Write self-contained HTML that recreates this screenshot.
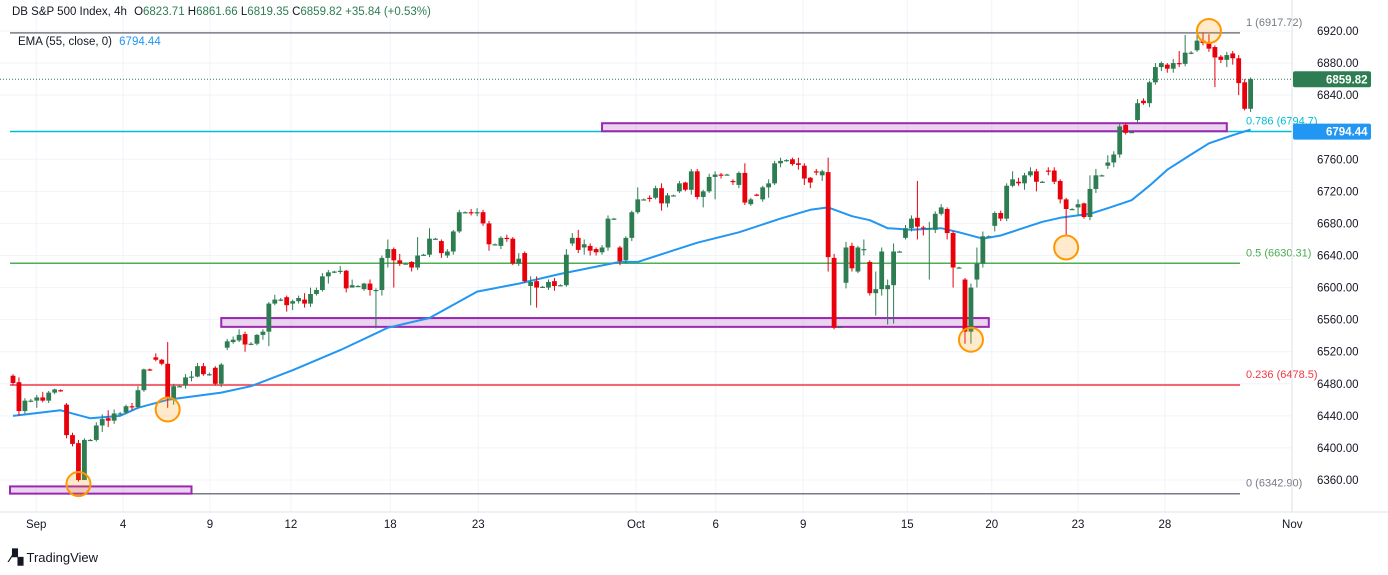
<!DOCTYPE html>
<html><head><meta charset="utf-8"><style>
body{margin:0;background:#fff;font-family:"Liberation Sans",sans-serif}
svg{display:block}
text{font-family:"Liberation Sans",sans-serif}
</style></head><body>
<svg id="chart" width="1388" height="575" viewBox="0 0 1388 575">
<rect x="0" y="0" width="1388" height="575" fill="#fff"/>
<g id="grid"></g>
<g id="levels"></g>
<g id="ema"></g>
<g id="candles"></g>
<g id="overlay"></g>
<g id="axes"></g>
<text x="12" y="15" font-size="11.5" fill="#131722">DB S&amp;P 500 Index, 4h <tspan fill="#131722" dx="4">O</tspan><tspan fill="#2e7d52">6823.71</tspan> <tspan>H</tspan><tspan fill="#2e7d52">6861.66</tspan> <tspan>L</tspan><tspan fill="#2e7d52">6819.35</tspan> <tspan>C</tspan><tspan fill="#2e7d52">6859.82 +35.84 (+0.53%)</tspan></text>
<text x="18" y="45" font-size="11.5" fill="#131722">EMA (55, close, 0) <tspan fill="#2196f3" dx="4">6794.44</tspan></text>
<text x="10" y="562" font-size="13" fill="#131722"><tspan font-weight="bold" font-size="14">⁄▚</tspan> TradingView</text>
</svg>
<script>
const NS='http://www.w3.org/2000/svg';
const opens=[6490,6482,6446,6459,6459,6463,6459,6469,6472,6454,6416,6406,6360,6410,6410,6428,6437,6434,6443,6444,6452,6451,6472,6498,6513,6510,6505,6462,6477,6478,6489,6489,6502,6492,6500,6480,6525,6532,6534,6542,6530,6530,6541,6545,6580,6585,6588,6580,6583,6585,6580,6592,6597,6614,6620,6621,6621,6600,6602,6598,6605,6597,6597,6637,6648,6634,6630,6632,6625,6640,6641,6661,6658,6640,6645,6670,6694,6694,6694,6694,6680,6654,6652,6662,6661,6630,6643,6602,6608,6601,6600,6608,6603,6603,6655,6662,6650,6652,6648,6644,6650,6686,6650,6634,6662,6694,6710,6712,6712,6724,6705,6715,6720,6731,6722,6745,6713,6720,6738,6741,6741,6733,6728,6743,6704,6716,6710,6725,6730,6755,6759,6760,6755,6752,6737,6745,6740,6744,6637,6551,6606,6652,6620,6648,6632,6593,6598,6598,6603,6645,6662,6674,6687,6675,6674,6672,6692,6698,6668,6625,6610,6545,6610,6630,6664,6677,6693,6686,6727,6732,6730,6740,6745,6732,6746,6746,6733,6710,6698,6700,6705,6688,6723,6740,6752,6756,6766,6803,6794,6809,6833,6830,6856,6875,6878,6873,6880,6879,6893,6896,6908,6905,6900,6888,6884,6892,6886,6856,6823];
const closes=[6481,6446,6459,6459,6463,6459,6469,6473,6471,6416,6405,6360,6410,6410,6428,6436,6434,6443,6443,6452,6451,6472,6498,6497,6510,6505,6462,6477,6477,6488,6489,6502,6492,6492,6480,6504,6533,6535,6541,6529,6530,6541,6545,6580,6585,6585,6578,6583,6587,6580,6592,6597,6614,6619,6620,6621,6599,6603,6602,6605,6597,6597,6637,6648,6634,6630,6630,6625,6640,6641,6661,6661,6643,6645,6670,6694,6694,6693,6694,6680,6654,6654,6662,6661,6630,6636,6608,6607,6600,6601,6607,6602,6603,6641,6662,6647,6654,6646,6644,6650,6686,6686,6633,6662,6694,6710,6710,6711,6724,6705,6715,6715,6730,6722,6745,6713,6720,6738,6741,6740,6741,6732,6743,6706,6710,6715,6725,6730,6755,6758,6759,6754,6753,6736,6731,6744,6745,6638,6550,6551,6650,6624,6650,6648,6593,6598,6645,6603,6645,6645,6674,6686,6676,6674,6674,6692,6700,6668,6625,6625,6545,6600,6630,6664,6664,6693,6686,6727,6735,6730,6740,6745,6732,6732,6745,6732,6710,6698,6698,6704,6688,6723,6740,6740,6756,6766,6801,6793,6794,6830,6830,6856,6875,6880,6873,6880,6879,6893,6893,6908,6905,6898,6887,6884,6890,6886,6855,6823,6860];
const highs=[6492,6488,6462,6461,6466,6470,6471,6474,6473,6456,6419,6410,6412,6411,6432,6442,6447,6448,6445,6454,6456,6477,6499,6499,6518,6511,6532,6480,6479,6492,6496,6506,6506,6494,6502,6506,6536,6539,6548,6545,6532,6542,6548,6582,6591,6587,6590,6585,6590,6593,6600,6600,6618,6622,6621,6627,6622,6610,6603,6606,6610,6599,6640,6660,6650,6642,6631,6633,6663,6642,6674,6662,6660,6648,6672,6697,6695,6698,6699,6697,6683,6655,6664,6666,6663,6643,6645,6614,6614,6602,6610,6612,6604,6648,6668,6672,6660,6655,6650,6653,6690,6687,6652,6664,6696,6725,6711,6715,6727,6730,6718,6716,6733,6732,6748,6748,6722,6742,6745,6743,6742,6735,6745,6755,6712,6717,6727,6735,6758,6762,6760,6762,6762,6755,6738,6748,6747,6762,6642,6552,6657,6656,6652,6660,6634,6620,6650,6610,6655,6646,6678,6690,6733,6677,6682,6695,6704,6700,6671,6626,6612,6605,6650,6670,6665,6695,6696,6730,6745,6737,6743,6750,6748,6733,6750,6750,6735,6712,6699,6710,6706,6740,6748,6741,6765,6770,6804,6805,6795,6835,6836,6858,6880,6882,6880,6885,6895,6915,6895,6915,6918,6916,6902,6890,6894,6895,6890,6860,6862];
const lows=[6478,6440,6443,6457,6450,6457,6456,6467,6470,6412,6402,6358,6360,6409,6408,6420,6426,6430,6441,6442,6447,6449,6470,6496,6508,6503,6450,6454,6476,6474,6483,6488,6490,6490,6478,6476,6522,6530,6532,6520,6528,6528,6535,6527,6578,6583,6570,6572,6580,6575,6576,6590,6595,6605,6618,6617,6594,6600,6601,6596,6590,6549,6590,6625,6600,6627,6629,6620,6622,6640,6638,6660,6637,6637,6641,6668,6693,6690,6689,6677,6646,6653,6648,6657,6628,6627,6606,6578,6575,6600,6597,6596,6602,6601,6652,6643,6641,6640,6640,6641,6646,6685,6628,6630,6658,6692,6709,6707,6710,6696,6700,6714,6718,6720,6716,6710,6700,6718,6710,6736,6740,6728,6724,6703,6702,6714,6707,6712,6728,6750,6757,6752,6747,6728,6724,6740,6733,6620,6548,6550,6599,6620,6618,6640,6590,6565,6590,6554,6555,6644,6660,6670,6660,6665,6610,6668,6690,6660,6600,6624,6530,6530,6600,6625,6663,6670,6683,6683,6725,6727,6722,6738,6720,6731,6740,6729,6705,6665,6697,6690,6686,6684,6718,6739,6748,6750,6762,6791,6793,6805,6828,6825,6853,6870,6868,6868,6875,6876,6891,6894,6902,6894,6850,6880,6875,6878,6840,6821,6819];
const emaIdx=[0,8,13,18,21,26,35,40,47,55,63,70,78,85,92,102,105,110,115,122,129,134,137,141,144,147,151,156,159,163,166,173,176,181,184,188,191,194,198,201,205,208];
const emaVal=[6440,6447,6437,6440,6450,6460,6469,6477,6497,6522,6550,6562,6595,6605,6617,6632,6632,6644,6656,6669,6686,6697,6700,6689,6684,6674,6672,6674,6669,6661,6665,6682,6687,6692,6699,6709,6727,6747,6766,6780,6790,6797];
const yTicks=[6360,6400,6440,6480,6520,6560,6600,6640,6680,6720,6760,6840,6880,6920];
const xTickLabels=['Sep','4','9','12','18','23','Oct','6','9','15','20','23','28','Nov'];
const xTickBars=[3.9,18.5,33.1,46.7,63.4,78.2,104.7,118.1,132.8,150.3,164.5,179,193.6,215];
const fibNames=['1','0.786','0.5','0.236','0'];
const fibValues=[6917.72,6794.7,6630.31,6478.5,6342.9];
const fibColors=['#787b86','#00bcd4','#4caf50','#f23645','#787b86'];
const zones=[[6805,6795,99,204],[6562,6551,35,164],[6352,6343,-1,30]];
const markers=[[201,6920],[26,6448],[161,6535],[177,6650],[11,6355]];
const lastClose=6859.82, emaLast=6794.44;

const Y=p=>31+(6920-p)*0.8018;
const X=i=>13+i*5.95;
const PR=1292;
function el(tag,attrs,parent){const e=document.createElementNS(NS,tag);for(const k in attrs)e.setAttribute(k,attrs[k]);parent.appendChild(e);return e;}
const G=id=>document.getElementById(id);

yTicks.forEach(v=>{const l=el('line',{x1:0,x2:PR,y1:Y(v),y2:Y(v),stroke:'#f0f3fa','stroke-width':1},G('grid'));

});
xTickBars.forEach(b=>{const l=el('line',{x1:X(b),x2:X(b),y1:0,y2:512,stroke:'#f0f3fa','stroke-width':1},G('grid'));

});

fibValues.forEach((v,i)=>{const l=el('line',{x1:10,x2:1240,y1:Y(v),y2:Y(v),stroke:fibColors[i],'stroke-width':1.5},G('levels'));


const t=el('text',{x:1246,y:Y(v)-7,'font-size':11,fill:fibColors[i]},G('levels'));
t.textContent=fibNames[i]+' ('+v.toFixed(v===6794.7||v===6478.5?1:2)+')';

});
const tail=el('line',{x1:1240,x2:PR,y1:Y(6794.7),y2:Y(6794.7),stroke:'#00bcd4','stroke-width':1.5},G('levels'));


zones.forEach(z=>{const x1=Math.max(10,X(z[2])),x2=X(z[3]);const r=el('rect',{x:x1,y:Y(z[0]),width:x2-x1,height:Y(z[1])-Y(z[0]),fill:'rgba(156,39,176,0.2)',stroke:'#9c27b0','stroke-width':2},G('levels'));

});
const dl=el('line',{x1:0,x2:PR,y1:Y(lastClose),y2:Y(lastClose),stroke:'#2e7d52','stroke-width':1,'stroke-dasharray':'1 2'},G('levels'));



let d='';emaIdx.forEach((b,i)=>{d+=(i?'L':'M')+X(b).toFixed(1)+','+Y(emaVal[i]).toFixed(1);});
const ep=el('path',{d:d,fill:'none',stroke:'#2196f3','stroke-width':2,'stroke-linejoin':'round'},G('ema'));



closes.forEach((c,i)=>{const o=opens[i],up=c>=o,col=up?'#2e7d52':'#e8000b',x=X(i);
const g=el('g',{},G('candles'));


el('line',{x1:x,x2:x,y1:Y(highs[i]),y2:Y(lows[i]),stroke:col,'stroke-width':1},g);
const top=Y(Math.max(o,c)),h=Math.max(1.2,Math.abs(Y(o)-Y(c)));
el('rect',{x:x-2.4,y:top,width:4.8,height:h,fill:col},g);});

markers.forEach(m=>{const c=el('circle',{cx:X(m[0]),cy:Y(m[1]),r:12,fill:'rgba(255,152,0,0.2)',stroke:'#ff9800','stroke-width':2},G('overlay'));

});

const ax=G('axes');
const ab=el('line',{x1:PR,x2:PR,y1:0,y2:512,stroke:'#e0e3eb'},ax);


const bb=el('line',{x1:0,x2:1388,y1:512,y2:512,stroke:'#e0e3eb'},ax);


yTicks.forEach(v=>{const t=el('text',{x:1317,y:Y(v)+4,'font-size':11.5,fill:'#131722'},ax);t.textContent=v.toFixed(2);

});
xTickBars.forEach((b,i)=>{const t=el('text',{x:X(b),y:528,'font-size':11.5,fill:'#131722','text-anchor':'middle'},ax);t.textContent=xTickLabels[i];

});
function badge(v,col,name){const y=Y(v);const r=el('rect',{x:1293,y:y-8,width:78,height:16,fill:col,rx:2},ax);


const t=el('text',{x:1326,y:y+4,'font-size':11.5,fill:'#fff','font-weight':'bold'},ax);t.textContent=v.toFixed(2);

}
badge(lastClose,'#2e7d52','last-price-badge');
badge(emaLast,'#2196f3','ema-price-badge');
</script>
</body></html>
